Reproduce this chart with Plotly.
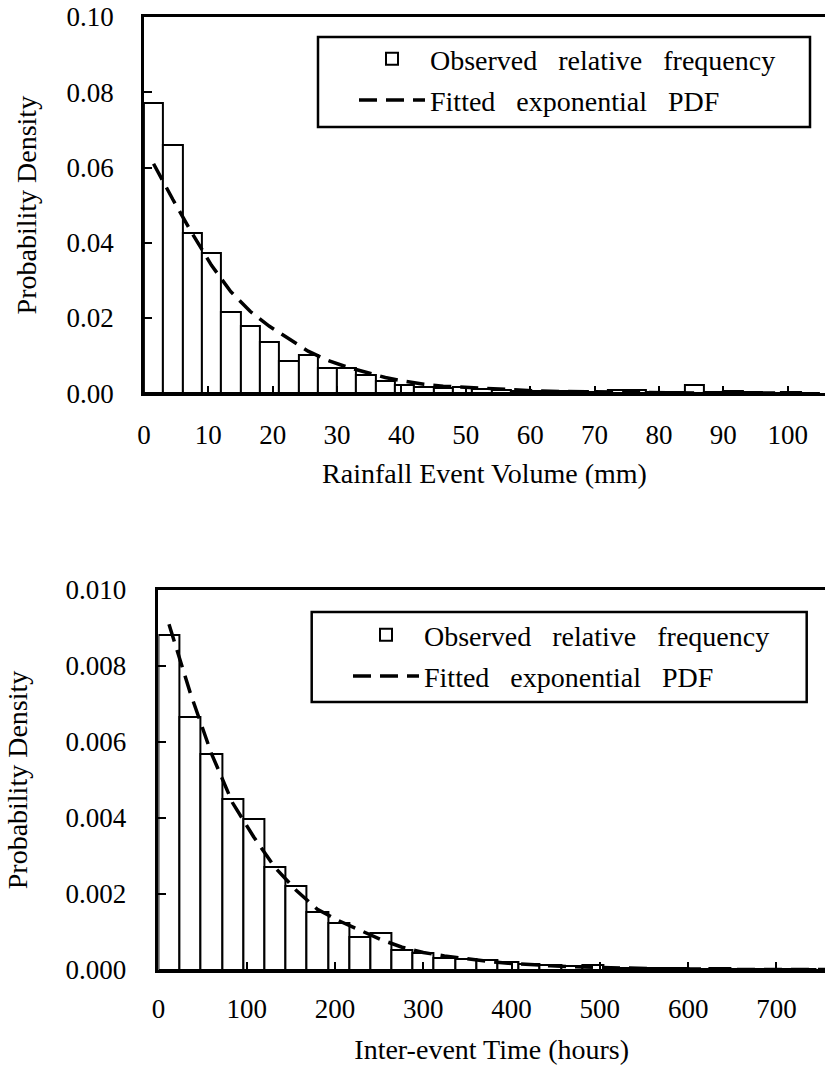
import plotly.graph_objects as go

# ---------------- data: rainfall event volume (mm) ----------------
vol_bin_start = [0, 3, 6, 9, 12, 15, 18, 21, 24, 27, 30, 33, 36, 39, 42, 45, 48, 51,
                 54, 57, 60, 63, 66, 69, 72, 75, 78, 81, 84, 87, 90, 93, 96, 99, 102]
vol_bin_width = 3
vol_freq = [0.0772, 0.0660, 0.0427, 0.0372, 0.0215, 0.0179, 0.0136, 0.0086, 0.0101,
            0.0068, 0.0066, 0.0048, 0.0033, 0.0021, 0.0016, 0.0014, 0.0016, 0.0011,
            0.0009, 0.0007, 0.0006, 0.0005, 0.0005, 0.0004, 0.0008, 0.0008, 0.0004,
            0.0003, 0.0021, 0.0003, 0.0005, 0.0003, 0.0002, 0.0003, 0.0002]
vol_pdf = [0.0610, 0.0515, 0.0425, 0.0340, 0.0270, 0.0218, 0.0178, 0.0144, 0.0112,
           0.0088, 0.0070, 0.0056, 0.0042, 0.0032, 0.0024, 0.0019, 0.0016, 0.0013,
           0.0010, 0.0008, 0.0006, 0.0005, 0.0004, 0.0003, 0.00025, 0.0002, 0.00016,
           0.00013, 0.0001, 0.00008, 0.00007, 0.00006, 0.00005, 0.00004, 0.00003]
vol_ticks = [0, 10, 20, 30, 40, 50, 60, 70, 80, 90, 100]

# ---------------- data: inter-event time (hours) ----------------
iet_bin_start = [0, 24, 48, 72, 96, 120, 144, 168, 192, 216, 240, 264, 288, 312, 336, 360,
                 384, 408, 432, 456, 480, 504, 528, 552, 576, 600, 624, 648, 672, 696, 720, 744]
iet_bin_width = 24
iet_freq = [0.00882, 0.00667, 0.00568, 0.00450, 0.00397, 0.00270, 0.00222, 0.00153,
            0.00125, 0.00087, 0.00097, 0.00053, 0.00044, 0.00031, 0.00030, 0.00026,
            0.00020, 0.00017, 0.00012, 0.00010, 0.00012, 0.00006, 0.00005, 0.00004,
            0.00005, 0.00003, 0.00004, 0.00002, 0.00003, 0.00002, 0.00002, 0.00001]
iet_pdf = [0.0091, 0.0073, 0.0057, 0.0044, 0.0035, 0.0027, 0.0021, 0.0016, 0.0013,
           0.00105, 0.0008, 0.0006, 0.00046, 0.00037, 0.00029, 0.00023, 0.00018, 0.00014,
           0.00011, 0.00009, 0.00007, 0.00005, 0.00004, 0.00003, 0.00003, 0.00002,
           0.00002, 0.00001, 0.00001, 0.00001, 0.00001, 0.00001]
iet_ticks = [0, 100, 200, 300, 400, 500, 600, 700]

NB = "\u00a0\u00a0\u00a0"
label_obs = "Observed" + NB + "relative" + NB + "frequency"
label_fit = "Fitted" + NB + "exponential" + NB + "PDF"

W, H = 825, 1077
FONT = "Liberation Serif, Times New Roman, serif"

def px_x(p):
    return p / W

def px_y(p):
    return (H - p) / H

fig = go.Figure()

vol_centers = [s + vol_bin_width / 2 for s in vol_bin_start]
iet_centers = [s + iet_bin_width / 2 for s in iet_bin_start]

fig.add_trace(go.Bar(
    x=vol_bin_start, y=vol_freq, width=vol_bin_width, offset=0,
    marker=dict(color="white", line=dict(color="black", width=2)),
    name=label_obs, legend="legend", legendgroup="a1",
    xaxis="x", yaxis="y"))
fig.add_trace(go.Scatter(
    x=vol_centers, y=vol_pdf, mode="lines",
    line=dict(color="black", width=3.5, dash="18px,9px"),
    name=label_fit, legend="legend", legendgroup="a2",
    xaxis="x", yaxis="y"))

fig.add_trace(go.Bar(
    x=iet_bin_start, y=iet_freq, width=iet_bin_width, offset=0,
    marker=dict(color="white", line=dict(color="black", width=2)),
    name=label_obs, legend="legend2", legendgroup="b1",
    xaxis="x2", yaxis="y2"))
fig.add_trace(go.Scatter(
    x=iet_centers, y=iet_pdf, mode="lines",
    line=dict(color="black", width=3.5, dash="18px,9px"),
    name=label_fit, legend="legend2", legendgroup="b2",
    xaxis="x2", yaxis="y2"))

axis_common = dict(
    showline=True, linecolor="black", linewidth=2.5,
    ticks="inside", ticklen=8, tickwidth=2, tickcolor="black",
    showgrid=False, zeroline=False, automargin=False,
    tickfont=dict(family=FONT, size=27, color="black"),
)

fig.update_layout(
    width=W, height=H,
    margin=dict(l=0, r=0, t=0, b=0),
    paper_bgcolor="white", plot_bgcolor="white",
    font=dict(family=FONT, size=27, color="black"),
    bargap=0,
    xaxis=dict(
        domain=[px_x(143.9), 1.0], range=[0, 105.8], tickvals=vol_ticks,
        mirror=True, anchor="y", ticklabelstandoff=16,
        title=dict(text="Rainfall Event Volume (mm)", standoff=14,
                   font=dict(family=FONT, size=28, color="black")),
        **axis_common),
    yaxis=dict(
        domain=[px_y(393.3), px_y(17)], range=[0, 0.1], dtick=0.02, tickformat=".2f",
        anchor="x", ticklabelstandoff=22,
        title=dict(text="Probability Density", standoff=22,
                   font=dict(family=FONT, size=28, color="black")),
        **axis_common),
    xaxis2=dict(
        domain=[px_x(158.4), 1.0], range=[0, 755], tickvals=iet_ticks,
        mirror=True, anchor="y2", ticklabelstandoff=13,
        title=dict(text="Inter-event Time (hours)", standoff=17,
                   font=dict(family=FONT, size=28, color="black")),
        **axis_common),
    yaxis2=dict(
        domain=[px_y(970), px_y(590)], range=[0, 0.010], dtick=0.002, tickformat=".3f",
        anchor="x2", ticklabelstandoff=24,
        title=dict(text="Probability Density", standoff=30,
                   font=dict(family=FONT, size=28, color="black")),
        **axis_common),
    legend=dict(
        x=px_x(354), y=px_y(34), xanchor="left", yanchor="top",
        bgcolor="rgba(0,0,0,0)", borderwidth=0, itemwidth=66,
        traceorder="grouped", tracegroupgap=2,
        font=dict(family=FONT, size=28, color="black")),
    legend2=dict(
        x=px_x(348), y=px_y(610), xanchor="left", yanchor="top",
        bgcolor="rgba(0,0,0,0)", borderwidth=0, itemwidth=66,
        traceorder="grouped", tracegroupgap=2,
        font=dict(family=FONT, size=28, color="black")),
    showlegend=True,
    shapes=[
        dict(type="rect", xref="paper", yref="paper",
             x0=px_x(318), x1=px_x(810), y0=px_y(127), y1=px_y(37),
             line=dict(color="black", width=2.5), fillcolor="rgba(0,0,0,0)", layer="above"),
        dict(type="rect", xref="paper", yref="paper",
             x0=px_x(311.7), x1=px_x(806.7), y0=px_y(702), y1=px_y(612),
             line=dict(color="black", width=2.5), fillcolor="rgba(0,0,0,0)", layer="above"),
    ],
)

fig.write_html("out.html")
